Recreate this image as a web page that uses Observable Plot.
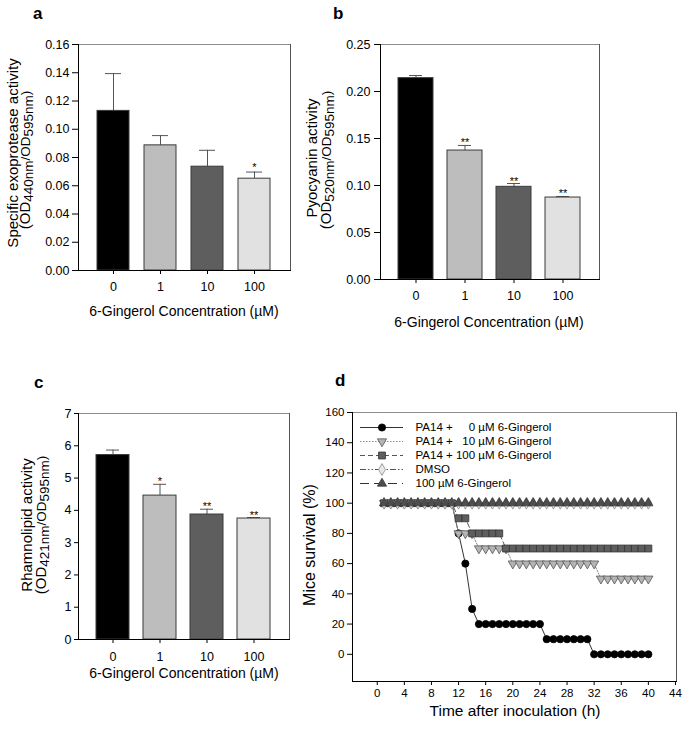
<!DOCTYPE html>
<html><head><meta charset="utf-8">
<script src="https://cdn.jsdelivr.net/npm/d3@7"></script>
<script src="https://cdn.jsdelivr.net/npm/@observablehq/plot@0.6"></script>
<style>
body{margin:0;background:#fff;}
#fig{position:relative;width:685px;height:729px;overflow:hidden;background:#fff;font-family:"Liberation Sans",Arial,sans-serif;}
</style></head><body><div id="fig"></div>
<script>
// ---------- data ----------
const concentrations = ["0", "1", "10", "100"];
const exoprotease = [0.113, 0.0886, 0.0735, 0.065];
const exoproteaseErr = [0.0264, 0.0069, 0.0116, 0.0047];
const exoproteaseSig = ["", "", "", "*"];
const exoTicks = [0, 0.02, 0.04, 0.06, 0.08, 0.10, 0.12, 0.14, 0.16];

const pyocyanin = [0.2142, 0.1372, 0.0986, 0.0872];
const pyocyaninErr = [0.0028, 0.0054, 0.0035, 0.0011];
const pyocyaninSig = ["", "**", "**", "**"];
const pyoTicks = [0, 0.05, 0.10, 0.15, 0.20, 0.25];

const rhamnolipid = [5.713, 4.457, 3.871, 3.747];
const rhamnolipidErr = [0.155, 0.35, 0.164, 0.031];
const rhamnolipidSig = ["", "*", "**", "**"];
const rhamTicks = [0, 1, 2, 3, 4, 5, 6, 7];

const hours = [1,2,3,4,5,6,7,8,9,10,11,12,13,14,15,16,17,18,19,20,21,22,23,24,25,26,27,28,29,30,31,32,33,34,35,36,37,38,39,40];
const survPA14_0   = [100,100,100,100,100,100,100,100,100,100,100,80,60,30,20,20,20,20,20,20,20,20,20,20,10,10,10,10,10,10,10,0,0,0,0,0,0,0,0,0];
const survPA14_10  = [100,100,100,100,100,100,100,100,100,100,100,80,80,80,70,70,70,70,70,60,60,60,60,60,60,60,60,60,60,60,60,60,50,50,50,50,50,50,50,50];
const survPA14_100 = [100,100,100,100,100,100,100,100,100,100,100,90,90,80,80,80,80,80,70,70,70,70,70,70,70,70,70,70,70,70,70,70,70,70,70,70,70,70,70,70];
const survDMSO     = [100,100,100,100,100,100,100,100,100,100,100,100,100,100,100,100,100,100,100,100,100,100,100,100,100,100,100,100,100,100,100,100,100,100,100,100,100,100,100,100];
const survGing100  = [100,100,100,100,100,100,100,100,100,100,100,100,100,100,100,100,100,100,100,100,100,100,100,100,100,100,100,100,100,100,100,100,100,100,100,100,100,100,100,100];
const seriesNames = ["PA14 + \u2007\u20070 \u00b5M 6-Gingerol", "PA14 + \u200710 \u00b5M 6-Gingerol", "PA14 + 100 \u00b5M 6-Gingerol", "DMSO", "100 \u00b5M 6-Gingerol"];
const timeTicks = [0,4,8,12,16,20,24,28,32,36,40,44];
const survTicks = [0,20,40,60,80,100,120,140,160];

// ---------- styles ----------
const barFills = ["#000000", "#bdbdbd", "#5e5e5e", "#e1e1e1"];
const seriesStyles = [
  {symbol: "circle",   rotate: 0,   r: 3.6, fill: "#000000", stroke: "#000000", line: "#333333", dash: null,              lw: 1},
  {symbol: "triangle", rotate: 180, r: 3.4, fill: "#b4b4b4", stroke: "#555555", line: "#8c8c8c", dash: "1.5,1.5",         lw: 1},
  {symbol: "square",   rotate: 0,   r: 3.9, fill: "#5e5e5e", stroke: "#333333", line: "#555555", dash: "5,3",             lw: 1},
  {symbol: "diamond",  rotate: 0,   r: 3.6, fill: "#e8e8e8", stroke: "#8a8a8a", line: "#555555", dash: "6,2,1.5,2,1.5,2", lw: 1},
  {symbol: "triangle", rotate: 0,   r: 3.4, fill: "#4e4e4e", stroke: "#333333", line: "#333333", dash: "9,5",             lw: 1}
];
const seriesValues = [survPA14_0, survPA14_10, survPA14_100, survDMSO, survGing100];

const W = 685, H = 729;
const FONT = "'Liberation Sans', Arial, sans-serif";
const svgStyle = `background:transparent;font-family:${FONT};font-size:12px;overflow:visible;position:absolute;left:0;top:0;max-width:none;`;
const fig = document.getElementById("fig");

function barPanel(o) {
  const rows = concentrations.map((c, i) => ({c, v: o.values[i], top: o.values[i] + o.errs[i], sig: o.sig[i]}));
  return Plot.plot({
    width: W, height: H,
    marginLeft: o.frame[0], marginTop: o.frame[1], marginRight: W - o.frame[2], marginBottom: H - o.frame[3],
    style: svgStyle,
    x: {type: "band", domain: concentrations, paddingInner: o.pi, paddingOuter: o.po},
    y: {domain: o.yDomain},
    color: {domain: concentrations, range: barFills},
    marks: [
      Plot.frame({stroke: "#8c8c8c"}),
      Plot.frame({anchor: "right", stroke: "#555"}),
      Plot.ruleX(rows, {x: "c", y1: "v", y2: "top", stroke: "#555"}),
      Plot.tickY(rows, {x: "c", y: "top", stroke: "#555", insetLeft: o.cap, insetRight: o.cap}),
      Plot.barY(rows, {x: "c", y: "v", fill: "c", stroke: "#3a3a3a", strokeWidth: 1}),
      Plot.text(rows, {x: "c", y: "top", text: "sig", lineAnchor: "bottom", dy: o.starDy, fontSize: 11, fontFamily: FONT}),
      Plot.frame({anchor: "left", stroke: "#000"}),
      Plot.frame({anchor: "bottom", stroke: "#000"}),
      Plot.axisY({ticks: o.yTicks, tickFormat: o.fmt, tickSize: o.ytick, tickPadding: o.ypad, label: null, fontSize: 12.5, fontFamily: FONT}),
      Plot.axisX({tickSize: 4, tickPadding: o.xpad, label: null, fontSize: 12.5, fontFamily: FONT})
    ]
  });
}

fig.appendChild(barPanel({values: exoprotease, errs: exoproteaseErr, sig: exoproteaseSig, yDomain: [0, 0.16], yTicks: exoTicks, fmt: d3.format(".2f"),
  frame: [78, 44, 290, 270], pi: 0.31, po: 0.375, cap: 8, starDy: -1, ytick: 6, ypad: 3, xpad: 8}));
fig.appendChild(barPanel({values: pyocyanin, errs: pyocyaninErr, sig: pyocyaninSig, yDomain: [0, 0.25], yTicks: pyoTicks, fmt: d3.format(".2f"),
  frame: [380, 44, 599, 279], pi: 0.285, po: 0.343, cap: 11, starDy: 1, ytick: 6, ypad: 4, xpad: 8}));
fig.appendChild(barPanel({values: rhamnolipid, errs: rhamnolipidErr, sig: rhamnolipidSig, yDomain: [0, 7], yTicks: rhamTicks, fmt: d3.format("d"),
  frame: [78, 413, 289, 639], pi: 0.29, po: 0.352, cap: 10, starDy: 1, ytick: 4, ypad: 3, xpad: 8.5}));

// panel d
const dMarks = [Plot.frame({stroke: "#8c8c8c"}), Plot.frame({anchor: "right", stroke: "#555"})];
seriesValues.forEach((vals, k) => {
  const s = seriesStyles[k];
  const rows = hours.map((h, i) => ({h, v: vals[i]}));
  dMarks.push(Plot.line(rows, {x: "h", y: "v", stroke: s.line, strokeWidth: s.lw, strokeDasharray: s.dash}));
  dMarks.push(Plot.dot(rows, {x: "h", y: "v", symbol: s.symbol, rotate: s.rotate, r: s.r, fill: s.fill, stroke: s.stroke, strokeWidth: 0.8}));
});
dMarks.push(
  Plot.frame({anchor: "left", stroke: "#000"}),
  Plot.frame({anchor: "bottom", stroke: "#000"}),
  Plot.axisY({ticks: survTicks, tickSize: 5, tickPadding: 3, label: null, fontSize: 11.5, fontFamily: FONT}),
  Plot.axisX({ticks: timeTicks, tickSize: 4, tickPadding: 3.5, label: null, fontSize: 11.5, fontFamily: FONT})
);
fig.appendChild(Plot.plot({
  width: W, height: H,
  marginLeft: 352, marginTop: 412, marginRight: W - 676, marginBottom: H - 681,
  style: svgStyle,
  x: {domain: [-3.65, 44.15]},
  y: {domain: [-18, 160]},
  marks: dMarks
}));

// legend of panel d
const legendMarks = [];
seriesNames.forEach((name, k) => {
  const s = seriesStyles[k];
  legendMarks.push(Plot.ruleY([name], {y: d => d, x1: 0, x2: 1, stroke: s.line, strokeWidth: 1.2, strokeDasharray: s.dash}));
  legendMarks.push(Plot.dot([name], {y: d => d, x: 0.5, symbol: s.symbol, rotate: s.rotate, r: s.r, fill: s.fill, stroke: s.stroke, strokeWidth: 0.8}));
  legendMarks.push(Plot.text([name], {y: d => d, x: 1, text: d => d, textAnchor: "start", dx: 12, fontSize: 11.5, fontFamily: FONT}));
});
fig.appendChild(Plot.plot({
  width: W, height: H,
  marginLeft: 360, marginRight: W - 403, marginTop: 426, marginBottom: H - 484,
  style: svgStyle,
  x: {domain: [0, 1], axis: null},
  y: {type: "point", domain: seriesNames, padding: 0, axis: null},
  marks: legendMarks
}));

// ---------- titles / panel letters ----------
const ov = d3.select(fig).append("svg").attr("width", W).attr("height", H)
  .style("position", "absolute").style("left", 0).style("top", 0)
  .attr("font-family", FONT);

const panelLetters = [["a", 33, 19], ["b", 333, 19], ["c", 34, 388], ["d", 335, 386]];
panelLetters.forEach(([t, x, y]) => ov.append("text").attr("x", x).attr("y", y).attr("font-size", 17).attr("font-weight", "bold").text(t));

const xTitles = [["6-Gingerol Concentration (\u00b5M)", 184, 316, 14], ["6-Gingerol Concentration (\u00b5M)", 489, 327, 14],
                 ["6-Gingerol Concentration (\u00b5M)", 184, 678, 14], ["Time after inoculation (h)", 515, 716, 15.5]];
xTitles.forEach(([t, x, y, fs]) => ov.append("text").attr("x", x).attr("y", y).attr("font-size", fs).attr("text-anchor", "middle").text(t));

function yTitle(parts, x, y, fs) {
  const t = ov.append("text").attr("transform", `translate(${x},${y}) rotate(-90)`).attr("text-anchor", "middle").attr("font-size", fs);
  parts.forEach(p => {
    if (typeof p === "string") t.append("tspan").text(p);
    else t.append("tspan").attr("font-size", fs - 1.5).attr("dy", p.dy).text(p.t);
  });
}
function odParts(a, b) { return ["(OD", {t: a, dy: 3}, {t: "/OD", dy: -3}, {t: b, dy: 3}, {t: ")", dy: -3}]; }

yTitle(["Specific exoprotease activity"], 18, 153, 15);
yTitle(odParts("440nm", "595nm"), 30, 160, 15);
yTitle(["Pyocyanin activity"], 317, 158, 15);
yTitle(odParts("520nm", "595nm"), 331, 160, 15);
yTitle(["Rhamnolipid activity"], 32, 525, 15);
yTitle(odParts("421nm", "595nm"), 46, 525, 15);
yTitle(["Mice survival (%)"], 315, 545, 16);
</script></body></html>
